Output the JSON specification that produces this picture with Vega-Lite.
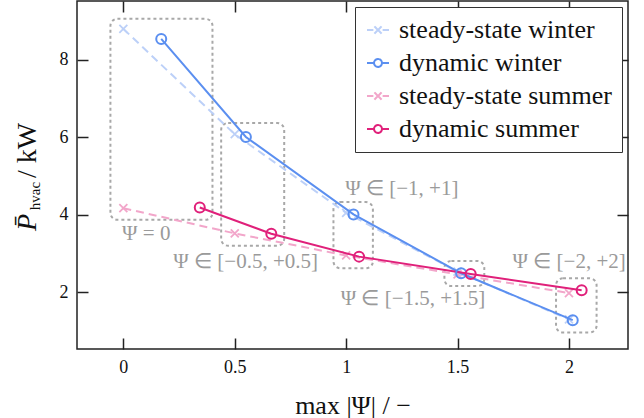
{
  "$schema": "https://vega.github.io/schema/vega-lite/v6.json",
  "width": 551,
  "height": 348,
  "autosize": {"type": "none"},
  "padding": {"left": 77, "top": 1, "right": 16, "bottom": 69},
  "background": "white",
  "config": {
    "font": "Liberation Serif",
    "view": {"stroke": "#222", "strokeWidth": 1.5},
    "axis": {
      "domain": false,
      "grid": false,
      "tickColor": "#222",
      "tickWidth": 1.5,
      "tickSize": -11,
      "labelFont": "Liberation Serif",
      "labelFontSize": 18,
      "labelColor": "#111",
      "titleFont": "Liberation Serif",
      "titleFontSize": 26,
      "titleFontWeight": "normal",
      "titleColor": "#111"
    },
    "legend": {
      "orient": "top-right",
      "offset": 6,
      "padding": 10,
      "strokeColor": "#333",
      "fillColor": "white",
      "cornerRadius": 0,
      "labelFont": "Liberation Serif",
      "labelFontSize": 26,
      "labelColor": "#111",
      "labelLimit": 400,
      "labelOffset": 8,
      "rowPadding": 7,
      "symbolSize": 484,
      "symbolStrokeWidth": 2
    }
  },
  "datasets": {
    "series": [
      {"series": "steady-state winter", "x": 0.0, "y": 8.80},
      {"series": "steady-state winter", "x": 0.5, "y": 6.08},
      {"series": "steady-state winter", "x": 1.0, "y": 4.05},
      {"series": "steady-state winter", "x": 1.5, "y": 2.53},
      {"series": "steady-state winter", "x": 2.0, "y": 1.30},
      {"series": "dynamic winter", "x": 0.170, "y": 8.54},
      {"series": "dynamic winter", "x": 0.550, "y": 6.01},
      {"series": "dynamic winter", "x": 1.033, "y": 4.01},
      {"series": "dynamic winter", "x": 1.516, "y": 2.49},
      {"series": "dynamic winter", "x": 2.017, "y": 1.28},
      {"series": "steady-state summer", "x": 0.0, "y": 4.17},
      {"series": "steady-state summer", "x": 0.5, "y": 3.52},
      {"series": "steady-state summer", "x": 1.0, "y": 2.95},
      {"series": "steady-state summer", "x": 1.5, "y": 2.46},
      {"series": "steady-state summer", "x": 2.0, "y": 1.98},
      {"series": "dynamic summer", "x": 0.343, "y": 4.19},
      {"series": "dynamic summer", "x": 0.664, "y": 3.51},
      {"series": "dynamic summer", "x": 1.058, "y": 2.92},
      {"series": "dynamic summer", "x": 1.559, "y": 2.47},
      {"series": "dynamic summer", "x": 2.057, "y": 2.05}
    ],
    "boxes": [
      {"x0": -0.058, "x1": 0.400, "y0": 9.06, "y1": 3.87},
      {"x0": 0.439, "x1": 0.722, "y0": 6.37, "y1": 3.20},
      {"x0": 0.943, "x1": 1.120, "y0": 4.33, "y1": 2.62},
      {"x0": 1.441, "x1": 1.620, "y0": 2.81, "y1": 2.16},
      {"x0": 1.942, "x1": 2.124, "y0": 2.36, "y1": 0.96}
    ],
    "notes": [
      {"label": "Ψ = 0", "x": 0.103, "y": 3.51},
      {"label": "Ψ ∈ [−0.5, +0.5]", "x": 0.549, "y": 2.79},
      {"label": "Ψ ∈ [−1, +1]", "x": 1.25, "y": 4.67},
      {"label": "Ψ ∈ [−1.5, +1.5]", "x": 1.30, "y": 1.83},
      {"label": "Ψ ∈ [−2, +2]", "x": 2.001, "y": 2.78}
    ],
    "one": [{}]
  },
  "resolve": {"axis": {"x": "independent", "y": "independent"}},
  "layer": [
    {
      "data": {"name": "boxes"},
      "mark": {"type": "rect", "fill": "transparent", "stroke": "#a8a8a8", "strokeWidth": 2, "strokeDash": [3, 3], "cornerRadius": 7},
      "encoding": {
        "x": {"field": "x0", "type": "quantitative", "scale": {"domain": [-0.208, 2.265], "nice": false, "zero": false},
              "axis": {"orient": "top", "labels": false, "title": null, "values": [0, 0.5, 1, 1.5, 2]}},
        "x2": {"field": "x1"},
        "y": {"field": "y0", "type": "quantitative", "scale": {"domain": [0.535, 9.52], "nice": false, "zero": false},
              "axis": {"orient": "right", "labels": false, "title": null, "values": [2, 4, 6, 8]}},
        "y2": {"field": "y1"}
      }
    },
    {
      "data": {"name": "series"},
      "transform": [{"filter": "indexof(datum.series, 'steady') >= 0"}],
      "mark": {"type": "line", "strokeWidth": 2, "strokeDash": [8, 5]},
      "encoding": {
        "x": {"field": "x", "type": "quantitative", "axis": null},
        "y": {"field": "y", "type": "quantitative", "axis": null},
        "color": {
          "field": "series", "type": "nominal",
          "scale": {
            "domain": ["steady-state winter", "dynamic winter", "steady-state summer", "dynamic summer"],
            "range": ["#bcd0f8", "#5b8ff0", "#f2a6ca", "#e0207a"]
          },
          "legend": {
            "title": null,
            "encode": {
              "symbols": {
                "update": {
                  "shape": {"signal": "indexof(datum.value, 'steady') >= 0 ? 'M-1,0L-0.42,0M0.42,0L1,0M-0.33,-0.33L0.33,0.33M0.33,-0.33L-0.33,0.33' : 'M-1,0L-0.36,0M0.36,0L1,0M0.36,0A0.36,0.36 0 1,1 -0.36,0A0.36,0.36 0 1,1 0.36,0'"},
                  "strokeDash": {"value": [1, 0]},
                  "strokeWidth": {"value": 2},
                  "fill": {"value": "transparent"}
                }
              }
            }
          }
        }
      }
    },
    {
      "data": {"name": "series"},
      "transform": [{"filter": "indexof(datum.series, 'steady') >= 0"}],
      "mark": {"type": "point", "shape": "M-1,-1L1,1M1,-1L-1,1", "filled": false, "size": 64, "strokeWidth": 1.8, "opacity": 1},
      "encoding": {
        "x": {"field": "x", "type": "quantitative", "axis": null},
        "y": {"field": "y", "type": "quantitative", "axis": null},
        "color": {"field": "series", "type": "nominal"}
      }
    },
    {
      "data": {"name": "series"},
      "transform": [{"filter": "indexof(datum.series, 'dynamic') >= 0"}],
      "mark": {"type": "line", "strokeWidth": 2},
      "encoding": {
        "x": {"field": "x", "type": "quantitative", "axis": null},
        "y": {"field": "y", "type": "quantitative", "axis": null},
        "color": {"field": "series", "type": "nominal"}
      }
    },
    {
      "data": {"name": "series"},
      "transform": [{"filter": "indexof(datum.series, 'dynamic') >= 0"}],
      "mark": {"type": "point", "shape": "circle", "filled": false, "size": 100, "strokeWidth": 2, "opacity": 1},
      "encoding": {
        "x": {"field": "x", "type": "quantitative",
              "axis": {"orient": "bottom", "values": [0, 0.5, 1, 1.5, 2], "format": "~g", "labelPadding": 20, "title": "max |Ψ| / −", "titlePadding": 16}},
        "y": {"field": "y", "type": "quantitative",
              "axis": {"orient": "left", "values": [2, 4, 6, 8], "format": "d", "labelPadding": 20, "title": null}},
        "color": {"field": "series", "type": "nominal"}
      }
    },
    {
      "data": {"name": "notes"},
      "mark": {"type": "text", "font": "Liberation Serif", "fontSize": 21, "color": "#9a9a9a", "align": "center", "baseline": "middle"},
      "encoding": {
        "x": {"field": "x", "type": "quantitative", "axis": null},
        "y": {"field": "y", "type": "quantitative", "axis": null},
        "text": {"field": "label"}
      }
    },
    {
      "data": {"name": "one"},
      "mark": {"type": "text", "font": "Liberation Serif", "fontSize": 28, "fontStyle": "italic", "angle": 270, "align": "left", "baseline": "alphabetic", "color": "#111"},
      "encoding": {
        "x": {"datum": -0.392, "type": "quantitative", "axis": null},
        "y": {"datum": 3.58, "type": "quantitative", "axis": null},
        "text": {"value": "P̄"}
      }
    },
    {
      "data": {"name": "one"},
      "mark": {"type": "text", "font": "Liberation Serif", "fontSize": 15, "angle": 270, "align": "left", "baseline": "alphabetic", "color": "#111"},
      "encoding": {
        "x": {"datum": -0.374, "type": "quantitative", "axis": null},
        "y": {"datum": 4.12, "type": "quantitative", "axis": null},
        "text": {"value": "hvac"}
      }
    },
    {
      "data": {"name": "one"},
      "mark": {"type": "text", "font": "Liberation Serif", "fontSize": 28, "angle": 270, "align": "left", "baseline": "alphabetic", "color": "#111"},
      "encoding": {
        "x": {"datum": -0.392, "type": "quantitative", "axis": null},
        "y": {"datum": 4.95, "type": "quantitative", "axis": null},
        "text": {"value": "/ kW"}
      }
    }
  ]
}
